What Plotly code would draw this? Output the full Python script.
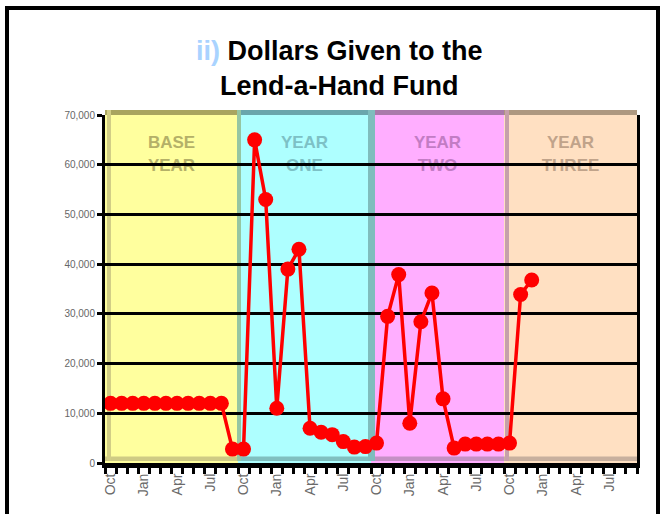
import plotly.graph_objects as go

# Monthly donations, starting October of the base year
month_labels = ["Oct", "Nov", "Dec", "Jan", "Feb", "Mar",
                "Apr", "May", "Jun", "Jul", "Aug", "Sep"] * 4
shown_months = ["Oct", "Jan", "Apr", "Jul"]
donations = [
    12000, 12000, 12000, 12000, 12000, 12000, 12000, 12000, 12000, 12000, 12000, 2800,
    2800, 65000, 53000, 11000, 39000, 43000, 7000, 6200, 5700, 4300, 3200, 3300,
    4000, 29500, 37900, 8000, 28400, 34200, 12900, 3000, 3800, 3800, 3800, 3800,
    4000, 33900, 36800,
]
period_names = ["BASE<br>YEAR", "YEAR<br>ONE", "YEAR<br>TWO", "YEAR<br>THREE"]
period_fill = ["#FFFF9E", "#AEFFFF", "#FFAEFF", "#FFE0C2"]
period_top = ["#A9A55F", "#6AA6AC", "#A97AAB", "#AE9880"]
period_bottom = ["#CFCB84", "#80C0C0", "#C490C4", "#C8B09E"]
period_edge = ["#D2CE86", "#96C6A2", "#7FBDBD", "#C6A0AA"]
period_text = ["#B4B068", "#7DC1C6", "#C27CC4", "#C0A38A"]

n_months = len(month_labels)
x_pos = list(range(len(donations)))
tick_vals = [i for i, m in enumerate(month_labels) if m in shown_months]
tick_text = [month_labels[i] for i in tick_vals]

W, H = 663, 514
ML, MR, MT, MB = 105, 26, 115, 51
PW, PH = W - ML - MR, H - MT - MB
px, py = 1.0 / PW, 1.0 / PH

fig = go.Figure()

fig.add_trace(go.Scatter(
    x=x_pos, y=donations, mode="lines+markers",
    line=dict(color="#FF0000", width=3.5),
    marker=dict(symbol="circle", size=15, color="#FF0000"),
    hoverinfo="skip", showlegend=False,
))

shapes = []
annotations = []
n_periods = len(period_names)
for i in range(n_periods):
    x0, x1 = i / n_periods, (i + 1) / n_periods
    # period background panel
    shapes.append(dict(type="rect", xref="paper", yref="paper", x0=x0, x1=x1,
                       y0=0, y1=1 + 5 * py, fillcolor=period_fill[i],
                       line_width=0, layer="below"))
    # darker top and bottom rims
    shapes.append(dict(type="rect", xref="paper", yref="paper", x0=x0, x1=x1,
                       y0=1, y1=1 + 5 * py, fillcolor=period_top[i],
                       line_width=0, layer="below"))
    shapes.append(dict(type="rect", xref="paper", yref="paper", x0=x0, x1=x1,
                       y0=2 * py, y1=6.5 * py, fillcolor=period_bottom[i],
                       line_width=0, layer="below"))
    # left rim / divider
    lo, hi = (2, 6) if i == 0 else ((-1, 3) if i == 1 else ((-3, 4) if i == 2 else (1, 5)))
    shapes.append(dict(type="rect", xref="paper", yref="paper",
                       x0=x0 + lo * px, x1=x0 + hi * px, y0=2 * py, y1=1 + 5 * py,
                       fillcolor=period_edge[i], line_width=0, layer="below"))
    # period name, kept beneath the gridlines
    cy = (463 - 152) * py
    shapes.append(dict(
        type="rect", xref="paper", yref="paper", x0=x0, x1=x1,
        y0=cy - 30 * py, y1=cy + 30 * py, line_width=0,
        fillcolor="rgba(0,0,0,0)", layer="below",
        label=dict(text="<b>" + period_names[i] + "</b>",
                   textposition="middle center",
                   font=dict(family="Liberation Sans, Arial", size=17,
                             color=period_text[i])),
    ))

# outer frame around the whole chart
shapes.append(dict(type="rect", xref="paper", yref="paper",
                   x0=(7 - ML) * px, x1=(658 - ML) * px,
                   y0=(463 - 540) * py, y1=(463 - 8) * py,
                   line=dict(color="black", width=4), fillcolor="rgba(0,0,0,0)",
                   layer="above"))

# chart title
annotations.append(dict(
    xref="paper", yref="paper", x=(339 - ML) * px, y=(463 - 68.5) * py,
    text="<b><span style='color:#A9D3FF'>ii)</span> Dollars Given to the<br>Lend-a-Hand Fund</b>",
    showarrow=False, xanchor="center", yanchor="middle",
    font=dict(family="Liberation Sans, Arial", size=27, color="black"),
))

fig.update_layout(
    width=W, height=H,
    margin=dict(l=ML, r=MR, t=MT, b=MB, pad=0),
    paper_bgcolor="white", plot_bgcolor="white",
    shapes=shapes, annotations=annotations,
    xaxis=dict(
        range=[-0.5, n_months - 0.5], tickmode="array",
        tickvals=tick_vals, ticktext=tick_text, tickangle=-90,
        ticks="", showgrid=False, zeroline=False,
        showline=True, linecolor="black", linewidth=5,
        tickfont=dict(family="Liberation Sans, Arial", size=14, color="#6A6A6A"),
        minor=dict(tickmode="linear", tick0=-0.5, dtick=1, ticks="outside",
                   ticklen=6, tickwidth=3, tickcolor="black", showgrid=False),
        fixedrange=True,
    ),
    yaxis=dict(
        range=[0, 70000], tickmode="linear", tick0=0, dtick=10000,
        tickformat=",", ticks="outside", ticklen=5, tickwidth=3, tickcolor="black",
        showgrid=True, gridcolor="black", gridwidth=3, zeroline=False,
        showline=True, linecolor="black", linewidth=3, mirror=True,
        tickfont=dict(family="Liberation Sans, Arial", size=10, color="#666666"),
        fixedrange=True,
    ),
)

fig.write_html("out.html")
